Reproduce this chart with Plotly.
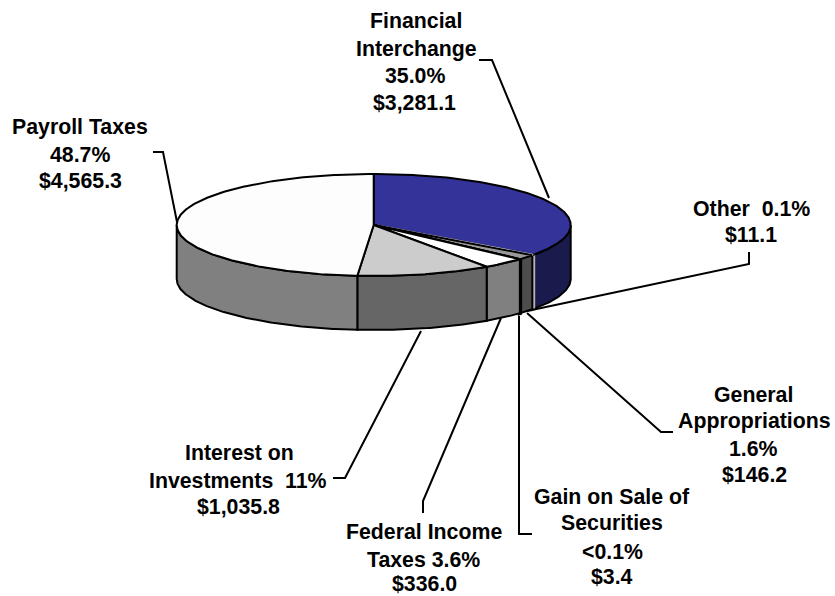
import numpy as np
import plotly.graph_objects as go

# Trust fund income by source, clockwise from twelve o'clock ($ billions)
sources = ["Financial Interchange", "Other", "General Appropriations",
           "Gain on Sale of Securities", "Federal Income Taxes",
           "Interest on Investments", "Payroll Taxes"]
amounts = [3281.1, 11.1, 146.2, 3.4, 336.0, 1035.8, 4565.3]
top_colors = ["#333399", "#ffffff", "#999999", "#000000", "#ffffff", "#cccccc", "#fdfdfd"]
side_colors = ["#1a1a4d", "#b3b3b3", "#4d4d4d", "#000000", "#808080", "#666666", "#808080"]

# Thin slices get their own edge so they stay visible
edge_colors = ["#000000", "#ffffff", "#000000", "#000000", "#000000", "#000000", "#000000"]
side_edge_colors = ["#000000", "#b3b3b3", "#000000", "#000000", "#000000", "#000000", "#000000"]
side_edge_widths = [2, 4, 2, 4, 2, 2, 2]

# Label text, one entry per printed line: (text, centre x, centre y)
label_lines = [
    ("Financial", 416, 21), ("Interchange", 416, 49), ("35.0%", 415, 76), ("$3,281.1", 414, 103),
    ("Payroll Taxes", 80, 127), ("48.7%", 80, 155), ("$4,565.3", 80, 181),
    ("Other  0.1%", 751, 209), ("$11.1", 751, 235),
    ("General", 753, 395), ("Appropriations", 754, 421), ("1.6%", 753, 449), ("$146.2", 754, 475),
    ("Gain on Sale of", 612, 497), ("Securities", 612, 523), ("<0.1%", 612, 552), ("$3.4", 612, 577),
    ("Federal Income", 424, 532), ("Taxes 3.6%", 423, 560), ("$336.0", 424, 584),
    ("Interest on", 239, 453), ("Investments  11%", 238, 481), ("$1,035.8", 238, 507),
]

# Leader lines from each label to its slice
leaders = [
    ([479, 492, 549], [60, 60, 198]),
    ([153, 163, 177], [152, 152, 222]),
    ([749, 749, 527], [252, 264, 311]),
    ([673, 661, 527], [432, 432, 313]),
    ([532, 519, 519], [534, 534, 316]),
    ([423, 423, 501], [513, 501, 318]),
    ([333, 345, 421], [478, 478, 331]),
]

CX, CY, RX, RY, DEPTH = 373.7, 225, 197, 51, 54
OUTLINE = dict(color="#000000", width=2)


def rim(theta):
    """Point on the upper rim for a clockwise angle measured from twelve o'clock."""
    return CX + RX * np.sin(theta), CY - RY * np.cos(theta)


fig = go.Figure()


def polygon(xs, ys, fill, line):
    fig.add_trace(go.Scatter(x=xs, y=ys, mode="lines", fill="toself", fillcolor=fill,
                             line=line, hoverinfo="skip", showlegend=False))


edges = 2 * np.pi * np.concatenate([[0], np.cumsum(amounts)]) / np.sum(amounts)

# Side walls first: only the part of each slice on the near half of the pie shows
for start, end, color, ec, ew in zip(edges[:-1], edges[1:], side_colors,
                                     side_edge_colors, side_edge_widths):
    lo, hi = max(start, np.pi / 2), min(end, 3 * np.pi / 2)
    if hi <= lo:
        continue
    t = np.linspace(lo, hi, max(2, int((hi - lo) * 80)))
    x, y = rim(t)
    polygon(np.r_[x, x[::-1], x[0]], np.r_[y, y[::-1] + DEPTH, y[0]], color,
            dict(color=ec, width=ew))

# Top faces over the walls
for start, end, color, ec in zip(edges[:-1], edges[1:], top_colors, edge_colors):
    t = np.linspace(start, end, max(2, int((end - start) * 80)))
    x, y = rim(t)
    polygon(np.r_[CX, x, CX], np.r_[CY, y, CY], color, dict(color=ec, width=2))

for xs, ys in leaders:
    fig.add_trace(go.Scatter(x=xs, y=ys, mode="lines", line=OUTLINE,
                             hoverinfo="skip", showlegend=False))

for text, x, y in label_lines:
    fig.add_annotation(x=x, y=y, text=f"<b>{text}</b>", showarrow=False,
                       xanchor="center", yanchor="middle", borderpad=0,
                       font=dict(family="Liberation Sans", size=21.3, color="#000000"))

fig.update_xaxes(range=[0, 835], visible=False, fixedrange=True)
fig.update_yaxes(range=[596, 0], visible=False, fixedrange=True)
fig.update_layout(width=835, height=596, margin=dict(l=0, r=0, t=0, b=0),
                  paper_bgcolor="#ffffff", plot_bgcolor="#ffffff")

fig.write_html("out.html")
